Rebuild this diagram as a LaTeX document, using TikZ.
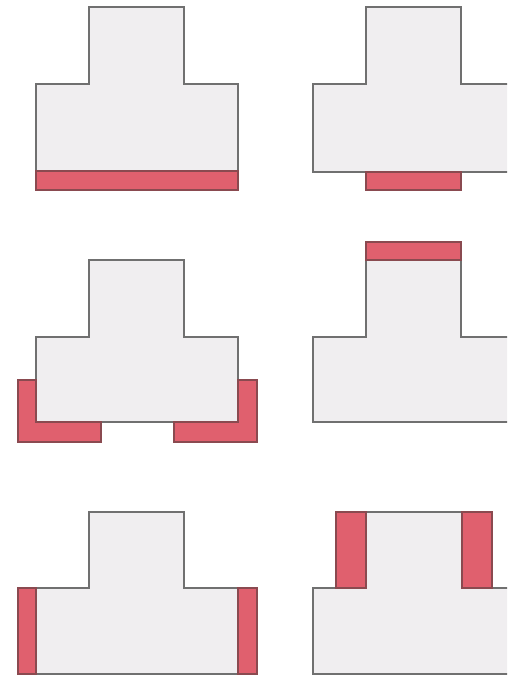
\documentclass[tikz,border=0pt]{standalone}
\begin{document}
\begin{tikzpicture}[x=1pt,y=-1pt,
  body/.style={fill=bodygray,draw=edgegray,line width=1.1pt,line join=miter},
  band/.style={fill=bandred,draw=bandedge,line width=1.1pt,line join=miter}]
\definecolor{bodygray}{HTML}{F0EEF0}
\definecolor{edgegray}{HTML}{707070}
\definecolor{bandred}{HTML}{E0606E}
\definecolor{bandedge}{HTML}{8A4A50}
\useasboundingbox[fill=white] (0,0) rectangle (507,677);
\clip (0,0) rectangle (507,677);
% panel 1
\draw[body] (36,84)--(89,84)--(89,7)--(184,7)--(184,84)--(238,84)--(238,190)--(36,190)--cycle;
\draw[band] (36,171) rectangle (238,190);
% panel 2
\draw[body] (313,84)--(366,84)--(366,7)--(461,7)--(461,84)--(515,84)--(515,172)--(313,172)--cycle;
\draw[band] (366,172) rectangle (461,190);
% panel 3
\draw[body] (36,337)--(89,337)--(89,260)--(184,260)--(184,337)--(238,337)--(238,422)--(36,422)--cycle;
\draw[band] (18,380)--(36,380)--(36,422)--(101,422)--(101,442)--(18,442)--cycle;
\draw[band] (257,380)--(238,380)--(238,422)--(174,422)--(174,442)--(257,442)--cycle;
% panel 4
\draw[body] (313,337)--(366,337)--(366,260)--(461,260)--(461,337)--(515,337)--(515,422)--(313,422)--cycle;
\draw[band] (366,242) rectangle (461,260);
% panel 5
\draw[body] (18,588)--(89,588)--(89,512)--(184,512)--(184,588)--(257,588)--(257,674)--(18,674)--cycle;
\draw[band] (18,588) rectangle (36,674);
\draw[band] (238,588) rectangle (257,674);
% panel 6
\draw[body] (313,588)--(336,588)--(336,512)--(492,512)--(492,588)--(515,588)--(515,674)--(313,674)--cycle;
\draw[band] (336,512) rectangle (366,588);
\draw[band] (462,512) rectangle (492,588);
\end{tikzpicture}
\end{document}
